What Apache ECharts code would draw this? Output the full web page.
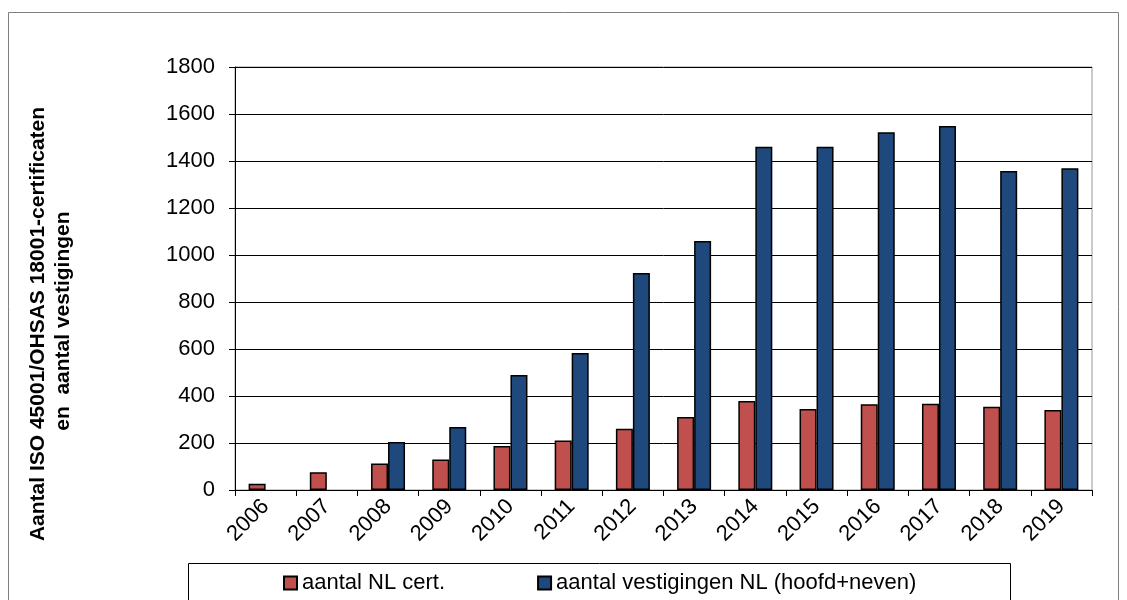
<!DOCTYPE html>
<html><head><meta charset="utf-8">
<script src="https://cdn.jsdelivr.net/npm/echarts@6/dist/echarts.min.js"></script>
<style>html,body{margin:0;padding:0;background:#fff}#c{width:1127px;height:600px}</style>
</head><body><div id="c"></div>
<script>
const years = ['2006','2007','2008','2009','2010','2011','2012','2013','2014','2015','2016','2017','2018','2019'];
const certNL = [27, 76, 113, 130, 187, 211, 261, 311, 379, 345, 365, 367, 354, 340];
const vestigingenNL = [null, null, 204, 268, 489, 583, 923, 1060, 1461, 1461, 1522, 1549, 1357, 1369];
const yTicks = [0, 200, 400, 600, 800, 1000, 1200, 1400, 1600, 1800];
const seriesNames = ['aantal NL cert.', 'aantal vestigingen NL (hoofd+neven)'];
const yTitle = 'Aantal ISO 45001/OHSAS 18001-certificaten\n en  aantal vestigingen';

const font = "'Liberation Sans', Arial, sans-serif";
const chart = echarts.init(document.getElementById('c'));
chart.setOption({
  animation: false,
  backgroundColor: '#fff',
  graphic: [
    {type: 'rect', shape: {x: 8.5, y: 12.5, width: 1110, height: 600}, style: {fill: 'none', stroke: '#7f7f7f', lineWidth: 1}, z: -1},
    {type: 'rect', shape: {x: 188.5, y: 563.5, width: 822, height: 60}, style: {fill: '#fff', stroke: '#000', lineWidth: 1}, z: 0},
    {type: 'text', x: 51, y: 324, rotation: Math.PI / 2,
      style: {text: yTitle, font: "bold 21px 'Liberation Sans', Arial, sans-serif", fill: '#000',
        textAlign: 'center', textVerticalAlign: 'middle', lineHeight: 25}, z: 5}
  ],
  grid: {left: 235, top: 67, width: 857, height: 423, show: true, borderColor: '#969696', borderWidth: 1, containLabel: false, outerBoundsMode: 'none'},
  legend: {
    data: seriesNames,
    left: 278, top: 567,
    itemWidth: 13, itemHeight: 13, itemGap: 92,
    textStyle: {fontFamily: font, fontSize: 22, color: '#000', lineHeight: 22},
    icon: 'rect',
    z: 5
  },
  xAxis: {
    type: 'category', data: years,
    axisLine: {lineStyle: {color: '#000', width: 1}},
    axisTick: {show: true, alignWithLabel: false, length: 6, lineStyle: {color: '#000'}},
    axisLabel: {rotate: 45, fontFamily: font, fontSize: 22, color: '#000', margin: 13, interval: 0},
    splitLine: {show: false}
  },
  yAxis: {
    type: 'value', min: 0, max: 1800, interval: 200,
    axisLine: {show: true, lineStyle: {color: '#000', width: 1}},
    axisTick: {show: true, length: 6, inside: false, lineStyle: {color: '#000'}},
    axisLabel: {fontFamily: font, fontSize: 22, color: '#000', margin: 20,
      formatter: v => yTicks.includes(v) ? String(v) : ''},
    splitLine: {show: true, lineStyle: {color: '#000', width: 1}}
  },
  series: [
    {name: seriesNames[0], type: 'bar', data: certNL, barWidth: 17, barGap: '0%',
      itemStyle: {color: '#C0504D', borderColor: '#000', borderWidth: 1.5}},
    {name: seriesNames[1], type: 'bar', data: vestigingenNL, barWidth: 17, barGap: '0%',
      itemStyle: {color: '#1F497D', borderColor: '#000', borderWidth: 1.5}}
  ]
});
</script></body></html>
